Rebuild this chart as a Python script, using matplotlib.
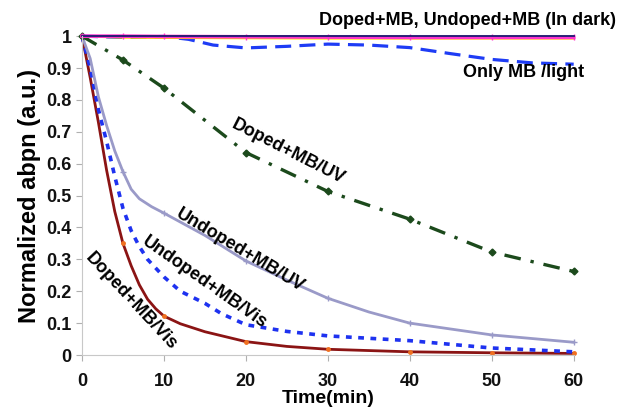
import matplotlib
matplotlib.use('Agg')
import matplotlib.pyplot as plt
import numpy as np

plt.rcParams['font.family'] = ['Liberation Sans', 'DejaVu Sans']
plt.rcParams['font.weight'] = 'bold'

# values (time in min, normalized absorption)
t_dark = [0, 5, 10, 20, 30, 40, 50, 60]
doped_dark = [1.0, 1.0, 1.0, 1.0, 1.0, 1.0, 1.0, 1.0]
undoped_dark = [1.0, 1.0, 0.999, 0.998, 0.997, 0.996, 0.996, 0.996]
yellow_dark = [1.0, 0.996, 0.995, 0.994, 0.993, 0.993, 0.993, 0.993]

t_light = [0, 5, 10, 13, 16, 20, 25, 30, 35, 40, 45, 50, 55, 60]
only_mb = [1.0, 0.996, 0.999, 0.99, 0.972, 0.963, 0.968, 0.975, 0.972,
           0.964, 0.945, 0.927, 0.916, 0.912]

t_uv = [0, 5, 10, 20, 30, 40, 50, 60]
doped_uv = [1.0, 0.925, 0.837, 0.635, 0.513, 0.426, 0.323, 0.262]

t_lav = [0, 1, 2, 3, 4, 5, 6, 7, 8.5, 10, 15, 20, 25, 30, 35, 40, 50, 60]
undoped_uv = [1.0, 0.93, 0.81, 0.72, 0.64, 0.575, 0.52, 0.49, 0.465, 0.445,
              0.375, 0.295, 0.235, 0.178, 0.135, 0.10, 0.063, 0.04]

t_dot = [0, 1, 2, 3, 4, 5, 6, 7, 8, 10, 12, 15, 17, 20, 25, 30, 40, 50, 60]
undoped_vis = [1.0, 0.9, 0.77, 0.67, 0.56, 0.46, 0.39, 0.34, 0.30, 0.245,
               0.2, 0.162, 0.13, 0.095, 0.074, 0.06, 0.045, 0.022, 0.01]

t_red = [0, 1, 2, 3, 4, 5, 6, 7, 8, 9, 10, 12, 15, 20, 25, 30, 40, 50, 60]
doped_vis = [1.0, 0.87, 0.73, 0.58, 0.45, 0.35, 0.28, 0.22, 0.175, 0.145,
             0.122, 0.098, 0.073, 0.042, 0.027, 0.018, 0.01, 0.007, 0.005]

marker_times = [0, 5, 10, 20, 30, 40, 50, 60]

def marks(t):
    return [x in marker_times for x in t]

fig = plt.figure(figsize=(6.24, 4.12), dpi=100)
ax = fig.add_axes([0.1314, 0.1383, 0.788, 0.774])

ax.plot(t_red, doped_vis, color='#8B1414', lw=2.0, marker='o', ms=2.5,
        mfc='#F07020', mec='#F07020', markevery=marks(t_red), clip_on=False)
ax.plot(t_dot, undoped_vis, color='#1E32F0', lw=2.6, ls=(0, (1.6, 1.8)), clip_on=False)
ax.plot(t_lav, undoped_uv, color='#9A9AC8', lw=2.0, marker='+', ms=4,
        mec='#9A9AC8', markevery=marks(t_lav), clip_on=False)
ax.plot(t_uv, doped_uv, color='#1C4A1C', lw=2.4, ls=(0, (5, 3, 1, 3)),
        marker='D', ms=3.5, mfc='#1C4A1C', mec='#1C4A1C', clip_on=False)
ax.plot(t_light, only_mb, color='#1E3CF5', lw=2.3, ls=(0, (5, 2.6)), clip_on=False)
ax.plot(t_dark, yellow_dark, color='#FFD200', lw=1.8, clip_on=False)
ax.plot(t_dark, undoped_dark, color='#FF33CC', lw=2.6, marker='|', ms=4,
        mec='#FF33CC', clip_on=False)
ax.plot(t_dark, doped_dark, color='#1A1A70', lw=1.3, clip_on=False)

ax.set_xlim(0, 60)
ax.set_ylim(0, 1)
ax.set_xticks(range(0, 61, 10))
ax.set_yticks(np.arange(0, 1.01, 0.1))
ax.set_yticklabels(['0', '0.1', '0.2', '0.3', '0.4', '0.5', '0.6', '0.7', '0.8', '0.9', '1'])
for s in ['top', 'right']:
    ax.spines[s].set_visible(False)
for s in ['left', 'bottom']:
    ax.spines[s].set_color('#C8C8C8')
ax.tick_params(axis='both', colors='#B0B0B0', length=4, labelsize=13,
               labelcolor='#111111')
ax.tick_params(axis='x', pad=9)
for lab in ax.get_xticklabels() + ax.get_yticklabels():
    lab.set_fontweight('bold')

ax.set_xlabel('Time(min)', fontsize=14, fontweight='bold', labelpad=0)
ax.set_ylabel('Normalized abpn (a.u.)', fontsize=17, fontweight='bold', labelpad=4)

kw = dict(fontsize=13, fontweight='bold', ha='center', va='center',
          rotation_mode='anchor', clip_on=False)
ax.text(47.1, 1.05, 'Doped+MB, Undoped+MB (In dark)', **kw)
ax.text(53.9, 0.887, 'Only MB /light', **kw)
ax.text(25.1, 0.636, 'Doped+MB/UV', rotation=-27, **kw)
ax.text(19.3, 0.329, 'Undoped+MB/UV', rotation=-31, **kw)
ax.text(14.9, 0.226, 'Undoped+MB/Vis', rotation=-35, **kw)
ax.text(6.0, 0.169, 'Doped+MB/Vis', rotation=-47, **kw)

fig.savefig('out.png', dpi=100)
